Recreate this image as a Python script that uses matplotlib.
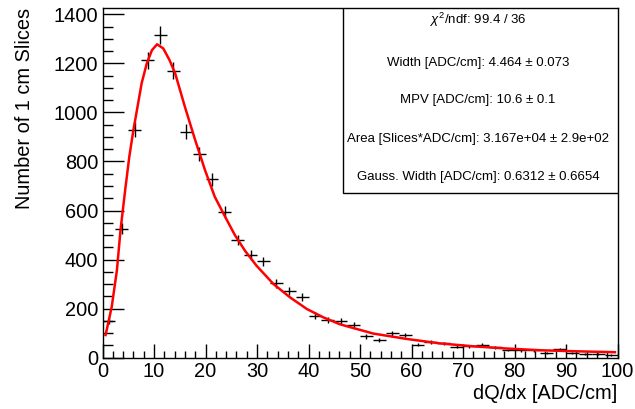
import numpy as np
import matplotlib
matplotlib.use("Agg")
import matplotlib.pyplot as plt
from matplotlib.patches import Rectangle
from matplotlib.ticker import MultipleLocator

plt.rcParams["font.family"] = ["Liberation Sans", "DejaVu Sans"]
plt.rcParams["mathtext.fontset"] = "custom"
plt.rcParams["mathtext.rm"] = "Liberation Sans"
plt.rcParams["mathtext.it"] = "Liberation Sans:italic"

# histogram: 40 bins of 2.5 ADC/cm
bin_centers = np.arange(1.25, 100, 2.5)
counts = [150, 526, 929, 1213, 1316, 1170, 922, 830, 728, 592,
          480, 420, 392, 303, 273, 246, 171, 155, 151, 133,
          87, 73, 100, 92, 53, 62, 58, 45, 46, 52,
          42, 31, 29, 29, 20, 34, 19, 14, 14, 12]

# fitted Landau x Gauss curve
fit_x = [0.6, 1.8, 2.8, 3.5, 4.4, 5.2, 6.0, 6.8, 7.6, 8.6, 9.6, 10.6, 11.8,
         13.0, 14.1, 16.0, 18.0, 19.9, 21.8, 23.8, 25.7, 27.7, 29.9, 33.2,
         36.4, 39.7, 42.9, 46.1, 48.1, 52.6, 59.1, 65.5, 72.0, 78.5, 85.0,
         91.4, 99.5]
fit_y = [92, 208, 357, 520, 683, 819, 928, 1023, 1119, 1200, 1254, 1278, 1261,
         1214, 1160, 1023, 887, 765, 656, 575, 500, 435, 375, 300,
         246, 198, 164, 136, 124, 98, 76, 58, 46, 37, 30,
         26, 22]

stats_lines = [
    r"$\chi^{2}$/ndf: 99.4 / 36",
    "Width [ADC/cm]: 4.464 \u00b1 0.073",
    "MPV [ADC/cm]: 10.6 \u00b1 0.1",
    "Area [Slices*ADC/cm]: 3.167e+04 \u00b1 2.9e+02",
    "Gauss. Width [ADC/cm]: 0.6312 \u00b1 0.6654",
]

W, H = 635, 409
fig = plt.figure(figsize=(W / 100, H / 100), dpi=100)
ax = fig.add_axes([102.5 / W, (H - 357.6) / H, 515 / W, 349.6 / H])

counts = np.array(counts, dtype=float)
ax.errorbar(bin_centers, counts, xerr=1.25, yerr=np.sqrt(counts),
            fmt="none", ecolor="black", elinewidth=1.0, capsize=0)
ax.plot(fit_x, fit_y, color="red", lw=1.8)

ax.set_xlim(0, 100)
ax.set_ylim(0, 1426)
ax.xaxis.set_major_locator(MultipleLocator(10))
ax.xaxis.set_minor_locator(MultipleLocator(2))
ax.yaxis.set_major_locator(MultipleLocator(200))
ax.yaxis.set_minor_locator(MultipleLocator(50))
ax.tick_params(which="both", direction="in", top=False, right=False,
               labelsize=14.4, width=1)
ax.tick_params(axis="y", which="major", length=15, pad=3)
ax.tick_params(axis="y", which="minor", length=7)
ax.tick_params(axis="x", which="major", length=10, pad=3)
ax.tick_params(axis="x", which="minor", length=5)
for s in ax.spines.values():
    s.set_linewidth(1)

ax.set_xlabel("dQ/dx [ADC/cm]", fontsize=14.4, loc="right", labelpad=2)
ax.set_ylabel("Number of 1 cm Slices", fontsize=14.4, loc="top", labelpad=14)

# stats box
bx0 = (343 - 102.5) / 515
by0 = (357.6 - 193.3) / 349.6
ax.add_patch(Rectangle((bx0, by0), 1 - bx0, 1 - by0, transform=ax.transAxes,
                       facecolor="white", edgecolor="black", lw=1, zorder=5))
ys = [20, 63.3, 100, 139.3, 176.7]
for txt, yp in zip(stats_lines, ys):
    ax.text((478 - 102.5) / 515, (357.6 - yp) / 349.6, txt, transform=ax.transAxes,
            ha="center", va="center", fontsize=9.5, zorder=6)

fig.savefig("out.png", dpi=100)
